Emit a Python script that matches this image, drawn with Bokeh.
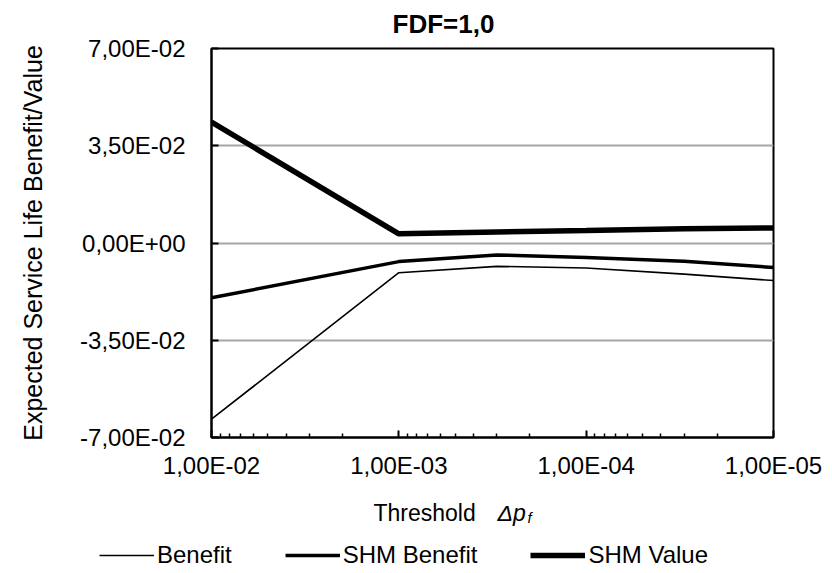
from bokeh.plotting import figure
from bokeh.models import (Range1d, FixedTicker, CustomJSTickFormatter, Legend, LegendItem, Label)
from bokeh.embed import file_html
from bokeh.resources import INLINE

# ---- data ----
thresholds = [1e-2, 1e-3, 3e-4, 1e-4, 3e-5, 1e-5]
benefit = [-0.0634, -0.0107, -0.0084, -0.0090, -0.0112, -0.0135]
shm_benefit = [-0.0197, -0.0067, -0.0043, -0.0052, -0.0066, -0.0088]
shm_value = [0.0435, 0.0033, 0.0040, 0.0045, 0.0051, 0.0054]

series_names = ["Benefit", "SHM Benefit", "SHM Value"]

x_major = [1e-2, 1e-3, 1e-4, 1e-5]
x_minor = [m * 10.0 ** e for e in (-3, -4, -5) for m in range(2, 10)]
y_ticks = [-0.07, -0.035, 0.0, 0.035, 0.07]

title_text = "FDF=1,0"
y_label = "Expected Service Life Benefit/Value"
FONT = "Liberation Sans"
FS = "24px"

# ---------------- main chart ----------------
p = figure(width=832, height=485, x_axis_type="log",
           x_range=Range1d(1e-2, 1e-5), y_range=Range1d(-0.07, 0.07),
           output_backend="svg", toolbar_location=None,
           min_border_left=211, min_border_right=59,
           min_border_top=47, min_border_bottom=48)

p.background_fill_color = "white"
p.border_fill_color = "white"
p.outline_line_color = "black"
p.outline_line_width = 2

fmt = CustomJSTickFormatter(code="""
if (Math.abs(tick) < 1e-12) return "0,00E+00";
const s = tick.toExponential(2);
const parts = s.split("e");
const m = parts[0].replace(".", ",");
let e = parts[1];
const sign = e[0] === "-" ? "-" : "+";
let d = e.replace("-", "").replace("+", "");
if (d.length < 2) d = "0" + d;
return m + "E" + sign + d;
""")

xa = p.xaxis[0]
xa.ticker = FixedTicker(ticks=x_major, minor_ticks=x_minor)
xa.formatter = fmt
xa.major_tick_in = 7
xa.major_tick_out = 0
xa.minor_tick_in = 4
xa.minor_tick_out = 0
xa.axis_line_color = "black"
xa.axis_line_width = 2
xa.major_tick_line_color = "black"
xa.major_tick_line_width = 2
xa.minor_tick_line_color = "black"
xa.minor_tick_line_width = 1.5
xa.major_label_text_font = FONT
xa.major_label_text_font_size = FS
xa.major_label_text_color = "black"
xa.major_label_standoff = 14

ya = p.yaxis[0]
ya.ticker = FixedTicker(ticks=y_ticks)
ya.formatter = fmt
ya.major_tick_in = 7
ya.major_tick_out = 0
ya.minor_tick_line_color = None
ya.axis_line_color = "black"
ya.axis_line_width = 2
ya.major_tick_line_color = "black"
ya.major_tick_line_width = 2
ya.major_label_text_font = FONT
ya.major_label_text_font_size = FS
ya.major_label_text_color = "black"
ya.major_label_standoff = 26
ya.axis_label = y_label
ya.axis_label_text_font = FONT
ya.axis_label_text_font_size = "25px"
ya.axis_label_text_font_style = "normal"
ya.axis_label_text_color = "black"
ya.axis_label_standoff = 30

p.xgrid.grid_line_color = None
p.ygrid.grid_line_color = "#a6a6a6"
p.ygrid.grid_line_width = 2

p.title.text = title_text
p.title.text_font = FONT
p.title.text_font_size = "26px"
p.title.text_font_style = "bold"
p.title.text_color = "black"
p.title.align = "left"
p.title.offset = 181
p.title.vertical_align = "top"
p.title.standoff = 16

line_widths = [1.6, 3.5, 5.5]
series = [benefit, shm_benefit, shm_value]
for vals, lw in zip(series, line_widths):
    p.line(thresholds, vals, line_color="black", line_width=lw)

# ---------------- bottom strip: x-axis title and legend ----------------
q = figure(width=832, height=88, x_range=Range1d(0, 1), y_range=Range1d(0, 1),
           output_backend="svg", toolbar_location=None,
           x_axis_location=None, y_axis_location=None,
           min_border_left=0, min_border_right=0, min_border_top=0, min_border_bottom=0)
q.outline_line_color = None
q.xgrid.visible = False
q.ygrid.visible = False
q.background_fill_color = "white"
q.border_fill_color = "white"

q.add_layout(Label(x=373, y=61, x_units="screen", y_units="screen", text="Threshold",
                   text_font=FONT, text_font_size="23px", text_color="black",
                   text_baseline="alphabetic", text_align="left"))
q.add_layout(Label(x=497, y=61, x_units="screen", y_units="screen", text="\u0394p",
                   text_font=FONT, text_font_size="23px", text_font_style="italic",
                   text_color="black", text_baseline="alphabetic", text_align="left"))
q.add_layout(Label(x=527, y=56, x_units="screen", y_units="screen", text="f",
                   text_font=FONT, text_font_size="15px", text_font_style="italic",
                   text_color="black", text_baseline="alphabetic", text_align="left"))

# legend proxies (same series, not drawn; they only give the legend its line styles)
proxies = []
for vals, lw in zip(series, line_widths):
    r = q.line(thresholds, vals, line_color="black", line_width=lw)
    r.visible = False
    proxies.append(r)

legend = Legend(items=[LegendItem(label=n, renderers=[r]) for n, r in zip(series_names, proxies)],
                orientation="horizontal", location=(99, 4),
                border_line_color=None, background_fill_alpha=0, inactive_fill_alpha=0,
                padding=0, margin=0, spacing=53, glyph_width=55, glyph_height=20,
                label_standoff=3, label_text_font=FONT, label_text_font_size=FS,
                label_text_color="black")
q.add_layout(legend)

# two separate roots so the strip is not frame-aligned with the chart
open("out.html", "w").write(file_html([p, q], INLINE))
